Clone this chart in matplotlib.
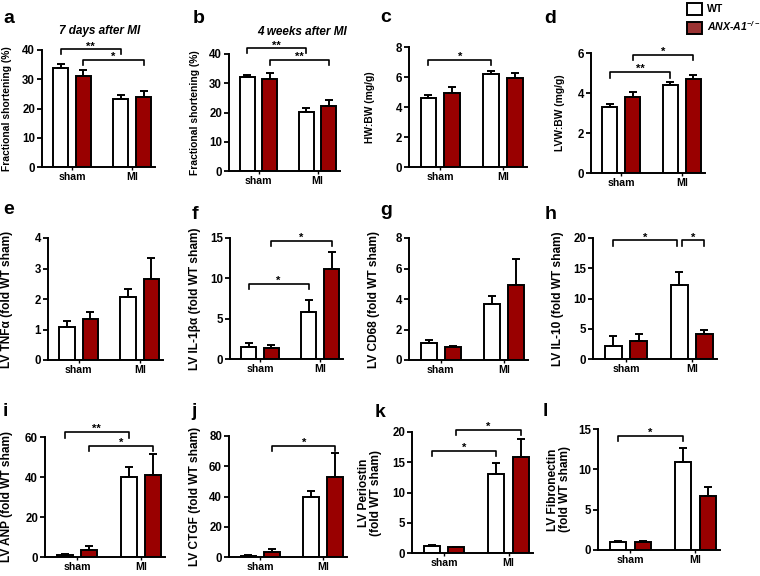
import numpy as np
import matplotlib
matplotlib.use("Agg")
import matplotlib.pyplot as plt
from matplotlib.patches import Patch

plt.rcParams['font.family'] = ['Liberation Sans', 'DejaVu Sans']
plt.rcParams['font.weight'] = 'bold'
plt.rcParams['axes.labelweight'] = 'bold'
plt.rcParams['mathtext.default'] = 'regular'

RED = '#990000'
W, H = 760, 576

groups = ['sham', 'MI']

# means and SEM, order [sham, MI]
fs7_wt, fs7_wt_sem = [33.7, 23.1], [1.4, 1.5]
fs7_ko, fs7_ko_sem = [31.1, 24.0], [2.0, 2.1]
fs4_wt, fs4_wt_sem = [32.0, 20.1], [0.9, 1.4]
fs4_ko, fs4_ko_sem = [31.4, 22.3], [2.0, 2.1]
hw_wt, hw_wt_sem = [4.62, 6.18], [0.20, 0.22]
hw_ko, hw_ko_sem = [4.93, 5.96], [0.40, 0.31]
lvw_wt, lvw_wt_sem = [3.32, 4.39], [0.11, 0.14]
lvw_ko, lvw_ko_sem = [3.78, 4.69], [0.28, 0.20]
tnf_wt, tnf_wt_sem = [1.08, 2.08], [0.21, 0.24]
tnf_ko, tnf_ko_sem = [1.34, 2.65], [0.23, 0.69]
il1_wt, il1_wt_sem = [1.49, 5.83], [0.49, 1.53]
il1_ko, il1_ko_sem = [1.40, 11.2], [0.38, 2.06]
cd68_wt, cd68_wt_sem = [1.10, 3.66], [0.22, 0.51]
cd68_ko, cd68_ko_sem = [0.88, 4.91], [0.06, 1.71]
il10_wt, il10_wt_sem = [2.09, 12.29], [1.66, 2.09]
il10_ko, il10_ko_sem = [3.03, 4.19], [1.16, 0.55]
anp_wt, anp_wt_sem = [0.83, 40.1], [0.67, 4.7]
anp_ko, anp_ko_sem = [3.3, 41.0], [2.0, 10.4]
ctgf_wt, ctgf_wt_sem = [0.88, 39.6], [0.6, 4.1]
ctgf_ko, ctgf_ko_sem = [3.3, 53.2], [2.0, 15.8]
post_wt, post_wt_sem = [1.10, 13.06], [0.17, 1.84]
post_ko, post_ko_sem = [0.94, 15.87], [0.11, 3.03]
fn_wt, fn_wt_sem = [1.04, 10.9], [0.12, 1.74]
fn_ko, fn_ko_sem = [1.04, 6.71], [0.12, 1.16]

# significance brackets: (bar from, bar to, line y, tip y, label)
# bars: 0 sham WT, 1 sham KO, 2 MI WT, 3 MI KO
sig_a = [(0, 2, 40.2, 38.6, '**'), (1, 3, 36.6, 34.9, '*')]
sig_b = [(0, 2, 41.9, 40.4, '**'), (1, 3, 38.0, 36.3, '**')]
sig_c = [(0, 2, 7.16, 6.78, '*')]
sig_d = [(0, 2, 5.06, 4.76, '**'), (1, 3, 5.92, 5.64, '*')]
sig_f = [(0, 2, 9.3, 8.68, '*'), (1, 3, 14.67, 13.97, '*')]
sig_h = [(0, 2, 19.6, 18.7, '*'), (2, 3, 19.6, 18.7, '*')]
sig_i = [(0, 2, 62.5, 59.7, '**'), (1, 3, 55.4, 52.9, '*')]
sig_j = [(1, 3, 73.4, 70.1, '*')]
sig_k = [(0, 2, 16.9, 16.0, '*'), (1, 3, 20.4, 19.45, '*')]
sig_l = [(0, 2, 14.17, 13.47, '*')]

panels = [
    # letter, box px (left, right, top, bottom), wt, wt_sem, ko, ko_sem, ymax, step, ylabel, sig, title
    ('a', (42, 155, 50, 167), fs7_wt, fs7_wt_sem, fs7_ko, fs7_ko_sem, 40, 10,
     'Fractional shortening (%)', sig_a, '7 days after MI'),
    ('b', (229, 340, 54, 171), fs4_wt, fs4_wt_sem, fs4_ko, fs4_ko_sem, 40, 10,
     'Fractional shortening (%)', sig_b, '4 weeks after MI'),
    ('c', (409, 527, 47, 167), hw_wt, hw_wt_sem, hw_ko, hw_ko_sem, 8, 2,
     'HW:BW (mg/g)', sig_c, None),
    ('d', (591, 705, 53, 173), lvw_wt, lvw_wt_sem, lvw_ko, lvw_ko_sem, 6, 2,
     'LVW:BW (mg/g)', sig_d, None),
    ('e', (48, 163, 238, 360), tnf_wt, tnf_wt_sem, tnf_ko, tnf_ko_sem, 4, 1,
     'LV TNF\u03b1 (fold WT sham)', [], None),
    ('f', (230, 343, 238, 359), il1_wt, il1_wt_sem, il1_ko, il1_ko_sem, 15, 5,
     'LV IL-1\u03b2\u03b1 (fold WT sham)', sig_f, None),
    ('g', (409, 528, 238, 360), cd68_wt, cd68_wt_sem, cd68_ko, cd68_ko_sem, 8, 2,
     'LV CD68 (fold WT sham)', [], None),
    ('h', (593, 717, 238, 359), il10_wt, il10_wt_sem, il10_ko, il10_ko_sem, 20, 5,
     'LV IL-10 (fold WT sham)', sig_h, None),
    ('i', (45, 165, 437, 557), anp_wt, anp_wt_sem, anp_ko, anp_ko_sem, 60, 20,
     'LV ANP (fold WT sham)', sig_i, None),
    ('j', (229, 347, 436, 557), ctgf_wt, ctgf_wt_sem, ctgf_ko, ctgf_ko_sem, 80, 20,
     'LV CTGF (fold WT sham)', sig_j, None),
    ('k', (412, 533, 432, 553), post_wt, post_wt_sem, post_ko, post_ko_sem, 20, 5,
     'LV Periostin\n(fold WT sham)', sig_k, None),
    ('l', (598, 720, 429, 550), fn_wt, fn_wt_sem, fn_ko, fn_ko_sem, 15, 5,
     'LV Fibronectin\n(fold WT sham)', sig_l, None),
]

# panel letter (left, baseline) and y-label centre x, in pixels
letter_pos = {'a': (3, 23), 'b': (193, 23), 'c': (380, 22), 'd': (544, 23),
              'e': (3, 214), 'f': (192, 219), 'g': (380, 215), 'h': (545, 219),
              'i': (3, 416), 'j': (191, 416), 'k': (375, 417), 'l': (543, 416)}
ylab_x = {'a': 7, 'b': 195, 'c': 370, 'd': 560, 'e': 7, 'f': 195, 'g': 374,
          'h': 558, 'i': 7, 'j': 195, 'k': 370, 'l': 559}
title_pos = {'a': (100, 31), 'b': (302, 32)}

fig = plt.figure(figsize=(W / 100, H / 100), dpi=100)

off, bw = 0.19, 0.25
x = np.arange(len(groups))
pos = [x[0] - off, x[0] + off, x[1] - off, x[1] + off]

for letter, box, wt, wt_s, ko, ko_s, ymax, step, ylabel, sig, title in panels:
    l, r, t, b = box
    ax = fig.add_axes([l / W, 1 - b / H, (r - l) / W, (b - t) / H])
    ax.bar(x - off, wt, bw, color='white', edgecolor='black', linewidth=1.4, zorder=2)
    ax.bar(x + off, ko, bw, color=RED, edgecolor='black', linewidth=1.4, zorder=2)
    ax.errorbar(x - off, wt, yerr=[np.zeros(2), wt_s], fmt='none', ecolor='black',
                elinewidth=1.4, capsize=3, capthick=1.4, zorder=3)
    ax.errorbar(x + off, ko, yerr=[np.zeros(2), ko_s], fmt='none', ecolor='black',
                elinewidth=1.4, capsize=3, capthick=1.4, zorder=3)
    ax.set_xlim(-0.5, 1.38)
    ax.set_ylim(0, ymax)
    ax.set_yticks(np.arange(0, ymax + step / 2, step))
    ax.set_xticks(x)
    ax.set_xticklabels(groups, fontsize=7.6)
    ax.tick_params(axis='y', labelsize=8.3, length=3.5, width=1.3, pad=1.5)
    ax.tick_params(axis='x', length=2, width=1.0, pad=1.5)
    for s in ['top', 'right']:
        ax.spines[s].set_visible(False)
    for s in ['left', 'bottom']:
        ax.spines[s].set_linewidth(1.4)

    # brackets
    for i0, i1, yl, yt, lab in sig:
        x0 = pos[i0] + (0.04 if letter == 'h' and i0 == 2 else 0)
        x1 = pos[i1] - (0.04 if letter == 'h' and i1 == 2 else 0)
        ax.plot([x0, x0, x1, x1], [yt, yl, yl, yt], color='black', lw=1.2,
                clip_on=False, zorder=4)
        ax.text((x0 + x1) / 2, yl, lab, ha='center', va='baseline', fontsize=8,
                clip_on=False)

    if title:
        tx, ty = title_pos[letter]
        fig.text(tx / W, 1 - ty / H, title, ha='center', va='center',
                 fontsize=8.5, fontstyle='italic')

    lx, ly = letter_pos[letter]
    fig.text(lx / W, 1 - ly / H, letter, fontsize=14, ha='left', va='baseline')
    fs = 7.4 if letter in 'abcd' else 8.6
    fig.text(ylab_x[letter] / W, 1 - (t + b) / 2 / H, ylabel, rotation=90,
             ha='center', va='center', fontsize=fs, multialignment='center',
             linespacing=1.05)

handles = [Patch(facecolor='white', edgecolor='black', linewidth=1.4),
           Patch(facecolor='#9b3333', edgecolor='black', linewidth=1.4)]
leg = fig.legend(handles, ['WT', r'ANX-A1$^{-/-}$'], loc='upper left',
                 bbox_to_anchor=(685 / W, 1 - 1 / H), frameon=False, fontsize=7.6,
                 handlelength=1.5, handleheight=1.4, labelspacing=0.45,
                 handletextpad=0.45, borderpad=0.15, borderaxespad=0)
leg.get_texts()[1].set_fontstyle('italic')

fig.savefig('out.png', dpi=100)
